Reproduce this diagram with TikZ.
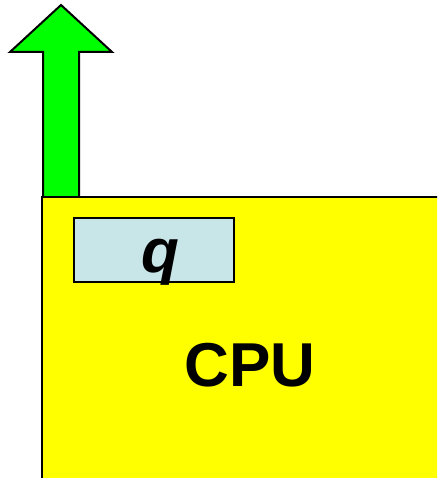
\documentclass[tikz,border=0pt]{standalone}
\usepackage{fontspec}
\setmainfont{Liberation Sans}
\definecolor{arrowgreen}{RGB}{0,255,0}
\definecolor{cpuyellow}{RGB}{255,255,0}
\definecolor{regblue}{RGB}{200,230,232}
\begin{document}
\begin{tikzpicture}[x=1pt,y=1pt,
  outline/.style={draw=black,line width=2pt},
  bigtext/.style={font=\fontsize{62}{62}\selectfont\bfseries,inner sep=0pt,anchor=base}]
\useasboundingbox (0,0) rectangle (437,478);
\begin{scope}
\clip (0,0) rectangle (437,478);
\draw[outline,fill=arrowgreen,line join=miter] (43,281) -- (43,426) -- (10,426) -- (61,473) -- (112,426) -- (79,426) -- (79,281);
\draw[outline,fill=cpuyellow] (42,281) rectangle (445,-5);
\end{scope}
\node[outline,fill=regblue,minimum width=160pt,minimum height=64pt,inner sep=0pt] (q) at (154,228) {};
\node[bigtext,font=\fontsize{62}{62}\selectfont\bfseries\itshape] (qlabel) at (160,205) {q};
\node[bigtext] (cpu) at (250,91) {CPU};
\end{tikzpicture}
\end{document}
